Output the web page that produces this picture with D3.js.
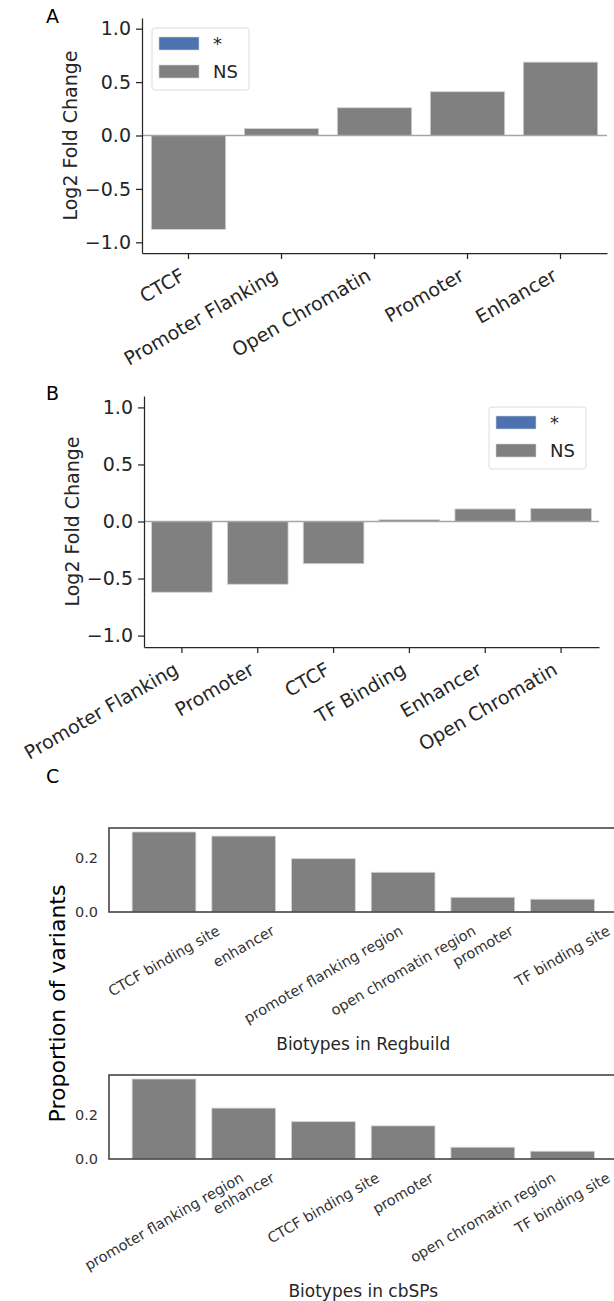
<!DOCTYPE html>
<html>
<head>
<meta charset="utf-8">
<script src="https://cdn.jsdelivr.net/npm/d3@7"></script>
<style>
  body { margin: 0; background: #fff; }
  text { font-family: "DejaVu Sans", sans-serif; }
</style>
</head>
<body>
<div id="chart"></div>
<script>
// panel A - log2 fold change per regulatory feature
const catsA = ["CTCF", "Promoter Flanking", "Open Chromatin", "Promoter", "Enhancer"];
const valsA = [-0.88, 0.065, 0.26, 0.41, 0.687];

// panel B
const catsB = ["Promoter Flanking", "Promoter", "CTCF", "TF Binding", "Enhancer", "Open Chromatin"];
const valsB = [-0.62, -0.55, -0.37, 0.015, 0.11, 0.115];

// panel C - proportion of variants
const catsReg = ["CTCF binding site", "enhancer", "promoter flanking region", "open chromatin region", "promoter", "TF binding site"];
const valsReg = [0.294, 0.279, 0.196, 0.146, 0.054, 0.047];
const catsCbsp = ["promoter flanking region", "enhancer", "CTCF binding site", "promoter", "open chromatin region", "TF binding site"];
const valsCbsp = [0.36, 0.229, 0.168, 0.149, 0.053, 0.035];

const lfcTicks = [-1.0, -0.5, 0.0, 0.5, 1.0];
const propTicks = [0.0, 0.2];
const legendLabels = ["*", "NS"];
const legendColors = ["#4c72b0", "#808080"];

const W = 614, H = 1301;
const svg = d3.select("#chart").append("svg")
    .attr("width", W).attr("height", H);

const ink = "#262626";
const barColor = "#808080";

// place rotated tick labels the way matplotlib does (bbox aligned at tick)
function rotLabels(g, x, cats, axisY, pad, fs, align, color) {
    cats.forEach(c => {
        const t = g.append("text")
            .attr("font-size", fs)
            .attr("fill", color)
            .attr("text-anchor", align === "right" ? "end" : "middle")
            .text(c);
        const w = t.node().getComputedTextLength();
        const a = 0.93 * fs, d = 0.24 * fs;
        const cx = x(c) + x.bandwidth() / 2;
        let ox, oy;
        if (align === "right") {
            ox = cx - 0.5 * d;
            oy = axisY + pad + 0.866 * a;
        } else {
            ox = cx + (a - d) / 4;
            oy = axisY + pad + w / 4 + 0.866 * a;
        }
        t.attr("transform", `translate(${ox},${oy}) rotate(-30)`);
    });
}

function lfcPanel(cats, vals, box, legendPos, letter, letterY) {
    const g = svg.append("g");
    const x = d3.scaleBand().domain(cats)
        .range([box.left, box.right])
        .paddingInner(0.2).paddingOuter(0.1);
    const y = d3.scaleLinear().domain([-1.1, 1.1])
        .range([box.bottom, box.top]);

    g.append("g").selectAll("rect")
        .data(vals)
        .join("rect")
        .attr("x", (d, i) => x(cats[i]))
        .attr("y", d => y(Math.max(0, d)))
        .attr("width", x.bandwidth())
        .attr("height", d => Math.abs(y(d) - y(0)))
        .attr("fill", barColor)
        .attr("stroke", "#d4d4d4")
        .attr("stroke-width", 0.8);

    // zero line
    g.append("line")
        .attr("x1", box.left).attr("x2", box.right)
        .attr("y1", y(0)).attr("y2", y(0))
        .attr("stroke", "#a6a6a6").attr("stroke-width", 1.5);

    const yAx = g.append("g")
        .attr("transform", `translate(${box.left},0)`)
        .call(d3.axisLeft(y).tickValues(lfcTicks).tickFormat(d3.format(".1f"))
            .tickSize(6).tickPadding(5).tickSizeOuter(0));
    yAx.selectAll("text").attr("font-size", 19).attr("fill", ink)
        .attr("font-family", "DejaVu Sans");
    yAx.selectAll("line").attr("stroke", ink).attr("stroke-width", 1.25);
    yAx.select(".domain").attr("stroke", ink).attr("stroke-width", 1.25);

    const xAx = g.append("g")
        .attr("transform", `translate(0,${box.bottom})`)
        .call(d3.axisBottom(x).tickSize(6).tickSizeOuter(0).tickFormat(""));
    xAx.selectAll("line").attr("stroke", ink).attr("stroke-width", 1.25);
    xAx.select(".domain").attr("stroke", ink).attr("stroke-width", 1.25);

    rotLabels(g, x, cats, box.bottom, 11, 19, "right", ink);

    g.append("text")
        .attr("transform", `translate(${box.left - 65},${(box.top + box.bottom) / 2}) rotate(-90)`)
        .attr("text-anchor", "middle")
        .attr("font-size", 19)
        .attr("fill", ink)
        .text("Log2 Fold Change");

    // legend
    const lg = g.append("g").attr("transform", `translate(${legendPos[0]},${legendPos[1]})`);
    lg.append("rect")
        .attr("width", 97).attr("height", 62).attr("rx", 3)
        .attr("fill", "#fff").attr("fill-opacity", 0.8)
        .attr("stroke", "#dcdcdc").attr("stroke-width", 1);
    legendLabels.forEach((lab, i) => {
        lg.append("rect")
            .attr("x", 7).attr("y", 9 + i * 28)
            .attr("width", 40).attr("height", 13)
            .attr("fill", legendColors[i])
            .attr("stroke", "#d4d4d4").attr("stroke-width", 0.6);
        lg.append("text")
            .attr("x", 61).attr("y", 9 + i * 28 + 13)
            .attr("font-size", 18).attr("fill", ink)
            .text(lab);
    });

    svg.append("text")
        .attr("x", 46).attr("y", letterY)
        .attr("font-family", "Liberation Sans, Arial, sans-serif")
        .attr("font-size", 19).attr("fill", "#000")
        .text(letter);
}

lfcPanel(catsA, valsA, {left: 142, right: 607, top: 18, bottom: 253}, [152, 28], "A", 23);
lfcPanel(catsB, valsB, {left: 144, right: 599, top: 396, bottom: 647}, [489, 407], "B", 400);

function propPanel(cats, vals, top, xlabel) {
    const g = svg.append("g");
    const left = 109, right = 617.5, bottom = top + 84;
    const x = d3.scaleBand().domain(cats)
        .range([left, right])
        .paddingInner(0.2).paddingOuter(0.29);
    const y = d3.scaleLinear().domain([0, d3.max(vals) * 1.05])
        .range([bottom, top]);

    g.append("g").selectAll("rect")
        .data(vals)
        .join("rect")
        .attr("x", (d, i) => x(cats[i]))
        .attr("y", d => y(d))
        .attr("width", x.bandwidth())
        .attr("height", d => y(0) - y(d))
        .attr("fill", barColor)
        .attr("stroke", "#d4d4d4")
        .attr("stroke-width", 0.8);

    g.append("rect")
        .attr("x", left).attr("y", top)
        .attr("width", right - left).attr("height", bottom - top)
        .attr("fill", "none")
        .attr("stroke", "#454545").attr("stroke-width", 1.6);

    const yAx = g.append("g")
        .attr("transform", `translate(${left},0)`)
        .call(d3.axisLeft(y).tickValues(propTicks).tickFormat(d3.format(".1f"))
            .tickSize(0).tickPadding(11));
    yAx.select(".domain").remove();
    yAx.selectAll("text").attr("font-size", 14.5).attr("fill", "#333")
        .attr("font-family", "DejaVu Sans");

    rotLabels(g, x, cats, bottom, 10, 14.5, "center", "#333");

    g.append("text")
        .attr("x", (left + right) / 2).attr("y", bottom + 138)
        .attr("text-anchor", "middle")
        .attr("font-size", 17).attr("fill", "#262626")
        .text(xlabel);
}

propPanel(catsReg, valsReg, 828, "Biotypes in Regbuild");
propPanel(catsCbsp, valsCbsp, 1075, "Biotypes in cbSPs");

svg.append("text")
    .attr("x", 46).attr("y", 783)
    .attr("font-family", "Liberation Sans, Arial, sans-serif")
    .attr("font-size", 19).attr("fill", "#000")
    .text("C");

svg.append("text")
    .attr("transform", "translate(65,1003.5) rotate(-90)")
    .attr("text-anchor", "middle")
    .attr("font-family", "Liberation Sans, Arial, sans-serif")
    .attr("font-size", 22).attr("fill", "#000")
    .text("Proportion of variants");
</script>
</body>
</html>
